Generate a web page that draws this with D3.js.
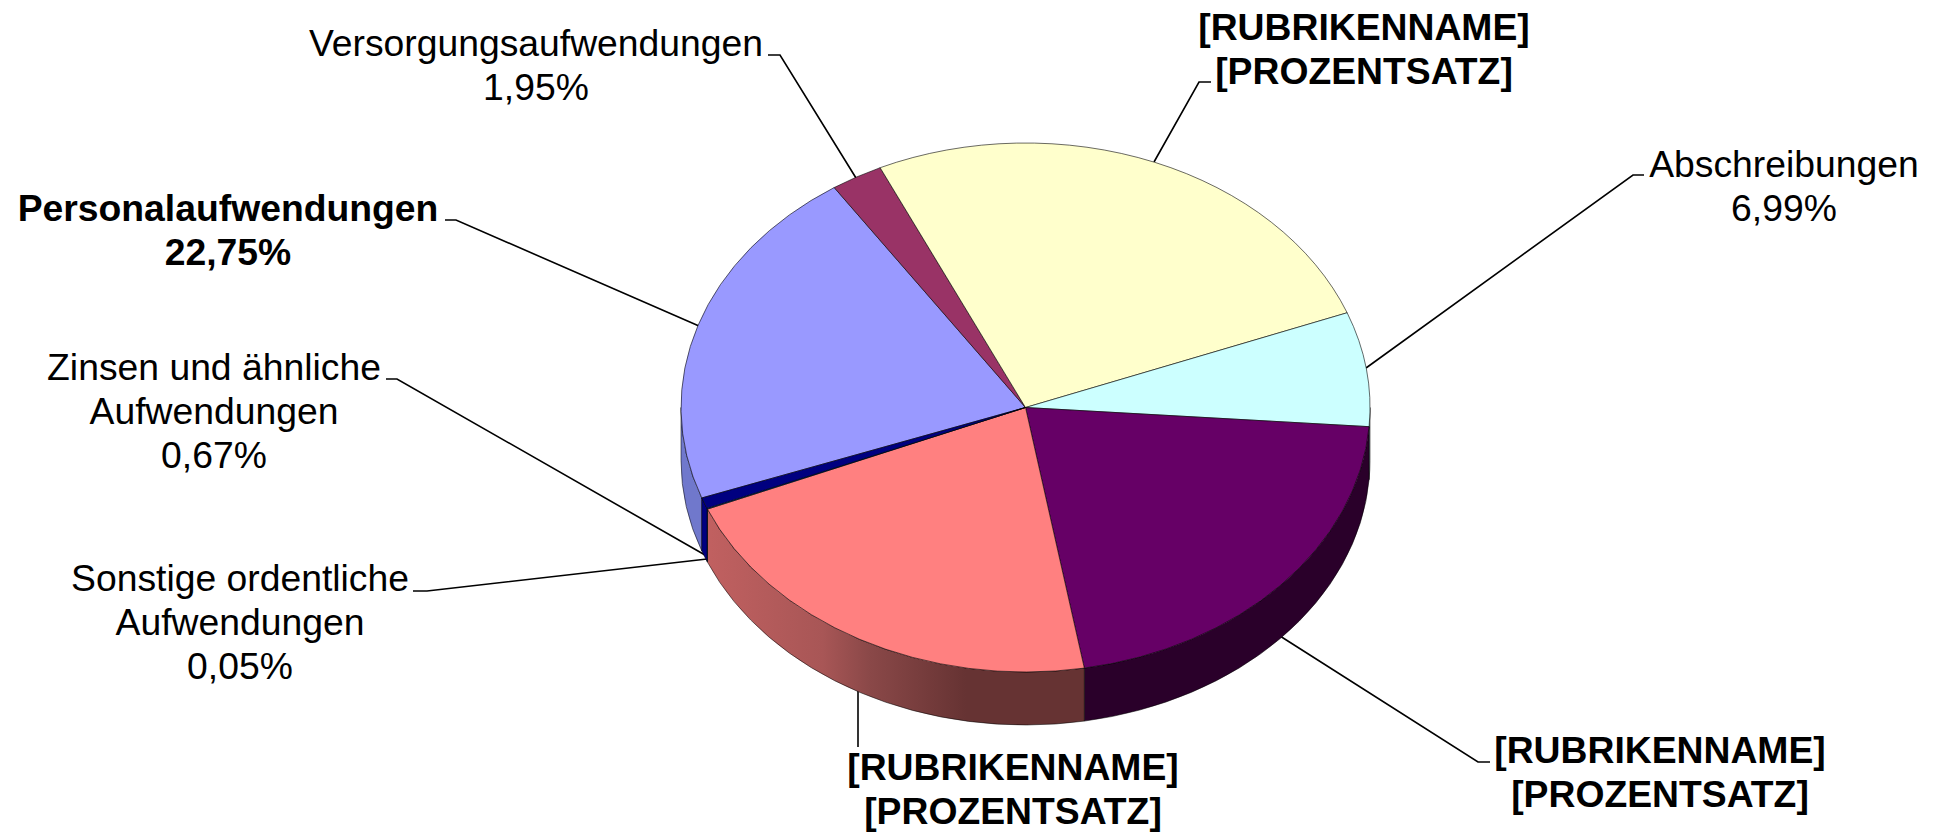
<!DOCTYPE html>
<html>
<head>
<meta charset="utf-8">
<script src="https://cdn.jsdelivr.net/npm/d3@7"></script>
<style>
html,body{margin:0;padding:0;background:#fff;overflow:hidden}
svg{display:block}
text{font-family:"Liberation Sans",Arial,sans-serif;font-size:37.3px;fill:#000}
</style>
</head>
<body>
<svg id="chart" width="1934" height="832"></svg>
<script>
// Slices clockwise, beginning with the one whose edge sits at the lower left.
const categories = ["Personalaufwendungen","Versorgungsaufwendungen","[RUBRIKENNAME] a","Abschreibungen","[RUBRIKENNAME] b","[RUBRIKENNAME] c","Sonstige ordentliche Aufwendungen","Zinsen und ähnliche Aufwendungen"];
// Shares as the wedges are drawn in the picture.
const sliceShares = [21.2, 2.44, 26.12, 6.99, 21.13, 21.47, 0.05, 0.67];
const topColors = ["#9999FF","#993366","#FFFFCC","#CCFFFF","#660066","#FF8080","#0066CC","#000080"];
const wallColors = ["#7078CC","#732650","#BFBF99","#99BFBF","#2A002A","url(#pinkWall)","#004C99","#000080"];

// Printed label lines.
const labelLines = [
  ["Personalaufwendungen","22,75%"],
  ["Versorgungsaufwendungen","1,95%"],
  ["[RUBRIKENNAME]","[PROZENTSATZ]"],
  ["Abschreibungen","6,99%"],
  ["[RUBRIKENNAME]","[PROZENTSATZ]"],
  ["[RUBRIKENNAME]","[PROZENTSATZ]"],
  ["Sonstige ordentliche","Aufwendungen","0,05%"],
  ["Zinsen und ähnliche","Aufwendungen","0,67%"]
];
const labelBold = [true,false,true,false,true,true,false,false];

// Layout (page pixels), kept apart from the data.
const cx = 1025.5, cy = 407.5, rx = 344.5, ry = 264.5, depth = 53;
const firstEdgeDeg = 250;
const lineStep = 44;
const labelAnchors = [[228,221],[536,56],[1364,40],[1784,177],[1660,763],[1013,780],[240,591],[214,380]];
const leaders = [
  [[445,220],[456,220],[699,326]],
  [[768,55],[780,55],[856,178]],
  [[1211,82],[1199,82],[1154,162]],
  [[1644,175],[1633,175],[1366,368]],
  [[1490,762],[1478,762],[1280,636]],
  [[858,747],[858,690]],
  [[413,591],[427,591],[707,559]],
  [[386,379],[397,379],[705,555]]
];

const svg = d3.select("#chart");
const defs = svg.append("defs");
const grad = defs.append("linearGradient").attr("id","pinkWall")
  .attr("gradientUnits","userSpaceOnUse")
  .attr("x1",710).attr("y1",0).attr("x2",966).attr("y2",0);
grad.append("stop").attr("offset","0").attr("stop-color","#C06060");
grad.append("stop").attr("offset","0.44").attr("stop-color","#A85656");
grad.append("stop").attr("offset","0.625").attr("stop-color","#8A4848");
grad.append("stop").attr("offset","1").attr("stop-color","#663333");

const a0 = firstEdgeDeg*Math.PI/180;
const pie = d3.pie().value(d=>d).sort(null).startAngle(a0).endAngle(a0+2*Math.PI);
const arcs = pie(sliceShares);

const px = a => cx + rx*Math.sin(a);
const py = a => cy - ry*Math.cos(a);
function wallPath(a,b){
  const lo = Math.PI/2, hi = 3*Math.PI/2;
  const norm = t => { let v = t % (2*Math.PI); return v<0 ? v+2*Math.PI : v; };
  let s = norm(a), e = s + (b-a);
  s = Math.max(s,lo); e = Math.min(e,hi);
  if (e<=s) return null;
  return `M${px(s)},${py(s)}A${rx},${ry} 0 0 1 ${px(e)},${py(e)}L${px(e)},${py(e)+depth}A${rx},${ry} 0 0 0 ${px(s)},${py(s)+depth}Z`;
}

// Leader lines go under the pie.
const line = d3.line();
svg.append("g").selectAll("path").data(leaders).join("path")
  .attr("d",d=>line(d)).attr("fill","none").attr("stroke","#000").attr("stroke-width",1.6);

// Side wall
svg.append("g").selectAll("path").data(arcs.map((d,i)=>({d,i})).filter(o=>wallPath(o.d.startAngle,o.d.endAngle)))
  .join("path")
  .attr("d",o=>wallPath(o.d.startAngle,o.d.endAngle))
  .attr("fill",o=>wallColors[o.i])
  .attr("stroke","#000").attr("stroke-opacity",0.65).attr("stroke-width",0.8);

// Top face: d3.arc drawn on a circle, flattened into the ellipse.
const arcGen = d3.arc().innerRadius(0).outerRadius(rx);
svg.append("g").attr("transform",`translate(${cx},${cy}) scale(1,${ry/rx})`)
  .selectAll("path").data(arcs).join("path")
  .attr("d",arcGen)
  .attr("fill",(d,i)=>topColors[i])
  .attr("stroke","#000").attr("stroke-opacity",0.65).attr("stroke-width",0.9)
  .attr("vector-effect","non-scaling-stroke");

// Labels
const lg = svg.append("g").selectAll("text").data(labelLines).join("text")
  .attr("text-anchor","middle")
  .attr("font-weight",(d,i)=>labelBold[i]?"bold":"normal");
lg.each(function(lines,i){
  d3.select(this).selectAll("tspan").data(lines).join("tspan")
    .attr("x",labelAnchors[i][0])
    .attr("y",(t,j)=>labelAnchors[i][1]+j*lineStep)
    .text(t=>t);
});
</script>
</body>
</html>
